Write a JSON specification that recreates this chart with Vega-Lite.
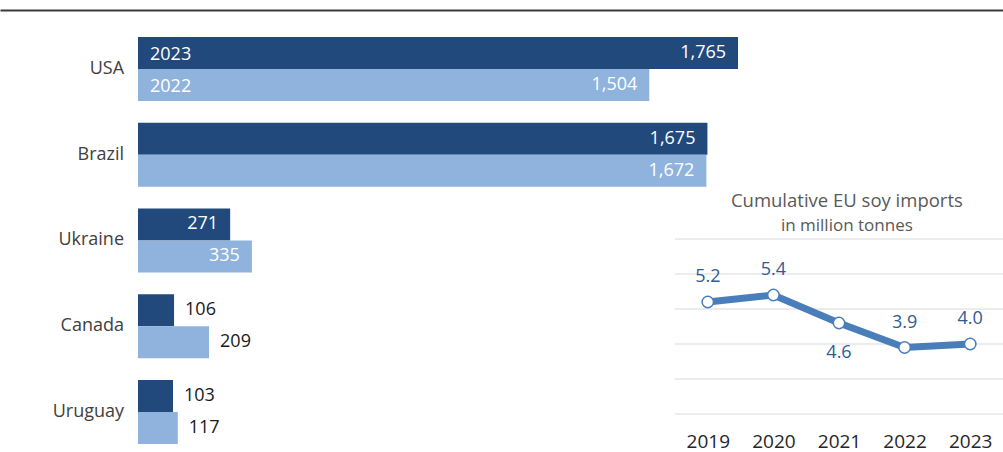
{
  "$schema": "https://vega.github.io/schema/vega-lite/v6.json",
  "width": 1003,
  "height": 452,
  "padding": 0,
  "autosize": {"type": "none"},
  "background": "white",
  "config": {"view": {"stroke": null}, "font": "Open Sans", "text": {"font": "Open Sans"}},
  "datasets": {
    "bars": [
      {"country": "USA", "year": "2023", "value": 1765},
      {"country": "USA", "year": "2022", "value": 1504},
      {"country": "Brazil", "year": "2023", "value": 1675},
      {"country": "Brazil", "year": "2022", "value": 1672},
      {"country": "Ukraine", "year": "2023", "value": 271},
      {"country": "Ukraine", "year": "2022", "value": 335},
      {"country": "Canada", "year": "2023", "value": 106},
      {"country": "Canada", "year": "2022", "value": 209},
      {"country": "Uruguay", "year": "2023", "value": 103},
      {"country": "Uruguay", "year": "2022", "value": 117}
    ],
    "soy": [
      {"year": 2019, "mt": 5.2},
      {"year": 2020, "mt": 5.4},
      {"year": 2021, "mt": 4.6},
      {"year": 2022, "mt": 3.9},
      {"year": 2023, "mt": 4.0}
    ],
    "grid": [{"level": 2}, {"level": 3}, {"level": 4}, {"level": 5}, {"level": 6}, {"level": 7}]
  },
  "layer": [
    {
      "data": {"name": "bars"},
      "mark": {"type": "bar"},
      "encoding": {
        "y": {"field": "country", "type": "nominal", "scale": {"type": "band", "domain": ["USA", "Brazil", "Ukraine", "Canada", "Uruguay"], "paddingInner": 0.2536, "paddingOuter": 0.2624, "align": 0.822}, "axis": null},
        "yOffset": {"field": "year", "type": "nominal", "scale": {"domain": ["2023", "2022"], "paddingInner": 0, "paddingOuter": 0}},
        "x": {"field": "value", "type": "quantitative", "scale": {"domain": [-406, 2544.5], "nice": false, "zero": false},
          "axis": {"orient": "top", "offset": -10, "domain": true, "domainColor": "#3a3a3a", "domainWidth": 2, "labels": false, "ticks": false, "grid": false, "title": null}},
        "color": {"field": "year", "type": "nominal", "scale": {"domain": ["2023", "2022"], "range": ["#22497c", "#8fb3dc"]}, "legend": null}
      }
    },
    {
      "data": {"name": "bars"},
      "transform": [{"filter": "datum.value >= 250"}],
      "mark": {"type": "text", "align": "right", "baseline": "middle", "dx": -12, "fontSize": 18, "color": "white"},
      "encoding": {
        "y": {"field": "country", "type": "nominal", "scale": {"type": "band", "domain": ["USA", "Brazil", "Ukraine", "Canada", "Uruguay"], "paddingInner": 0.2536, "paddingOuter": 0.2624, "align": 0.822}, "axis": null},
        "yOffset": {"field": "year", "type": "nominal", "scale": {"domain": ["2023", "2022"], "paddingInner": 0, "paddingOuter": 0}},
        "x": {"field": "value", "type": "quantitative", "scale": {"domain": [-406, 2544.5], "nice": false, "zero": false}, "axis": null},
        "text": {"field": "value", "type": "quantitative", "format": ","}
      }
    },
    {
      "data": {"name": "bars"},
      "transform": [{"filter": "datum.value < 250"}],
      "mark": {"type": "text", "align": "left", "baseline": "middle", "dx": 11, "fontSize": 18, "color": "#1a1a1a"},
      "encoding": {
        "y": {"field": "country", "type": "nominal", "scale": {"type": "band", "domain": ["USA", "Brazil", "Ukraine", "Canada", "Uruguay"], "paddingInner": 0.2536, "paddingOuter": 0.2624, "align": 0.822}, "axis": null},
        "yOffset": {"field": "year", "type": "nominal", "scale": {"domain": ["2023", "2022"], "paddingInner": 0, "paddingOuter": 0}},
        "x": {"field": "value", "type": "quantitative", "scale": {"domain": [-406, 2544.5], "nice": false, "zero": false}, "axis": null},
        "text": {"field": "value", "type": "quantitative", "format": ","}
      }
    },
    {
      "data": {"name": "bars"},
      "transform": [{"filter": "datum.country === 'USA'"}],
      "mark": {"type": "text", "align": "left", "baseline": "middle", "dx": 12, "dy": 2, "fontSize": 18, "color": "white"},
      "encoding": {
        "y": {"field": "country", "type": "nominal", "scale": {"type": "band", "domain": ["USA", "Brazil", "Ukraine", "Canada", "Uruguay"], "paddingInner": 0.2536, "paddingOuter": 0.2624, "align": 0.822}, "axis": null},
        "yOffset": {"field": "year", "type": "nominal", "scale": {"domain": ["2023", "2022"], "paddingInner": 0, "paddingOuter": 0}},
        "x": {"datum": 0, "type": "quantitative", "scale": {"domain": [-406, 2544.5], "nice": false, "zero": false}, "axis": null},
        "text": {"field": "year", "type": "nominal"}
      }
    },
    {
      "data": {"name": "bars"},
      "transform": [{"filter": "datum.year === '2023'"}],
      "mark": {"type": "text", "align": "right", "baseline": "middle", "dx": -14, "fontSize": 18, "color": "#404040"},
      "encoding": {
        "y": {"field": "country", "type": "nominal", "scale": {"type": "band", "domain": ["USA", "Brazil", "Ukraine", "Canada", "Uruguay"], "paddingInner": 0.2536, "paddingOuter": 0.2624, "align": 0.822}, "axis": null},
        "x": {"datum": 0, "type": "quantitative", "scale": {"domain": [-406, 2544.5], "nice": false, "zero": false}, "axis": null},
        "text": {"field": "country", "type": "nominal"}
      }
    },
    {
      "data": {"name": "grid"},
      "mark": {"type": "rule", "color": "#d9d9d9", "strokeWidth": 1},
      "encoding": {
        "y": {"field": "level", "type": "quantitative", "scale": {"domain": [2, 7], "range": [414, 239], "nice": false, "zero": false}, "axis": null},
        "x": {"datum": 2018.5, "type": "quantitative", "scale": {"domain": [2018.5, 2023.5], "range": [675, 1003], "nice": false, "zero": false}, "axis": null},
        "x2": {"datum": 2023.5}
      }
    },
    {
      "data": {"name": "soy"},
      "mark": {"type": "line", "color": "#4a7ebb", "strokeWidth": 7},
      "encoding": {
        "x": {"field": "year", "type": "quantitative", "scale": {"domain": [2018.5, 2023.5], "range": [675, 1003], "nice": false, "zero": false},
          "axis": {"orient": "bottom", "values": [2019, 2020, 2021, 2022, 2023], "format": "d", "domain": false, "ticks": false, "grid": false, "labelFontSize": 19, "labelColor": "#262626", "labelPadding": 2, "offset": -22, "title": null, "labelFlush": false, "labelOverlap": false, "labelBound": false}},
        "y": {"field": "mt", "type": "quantitative", "scale": {"domain": [2, 7], "range": [414, 239], "nice": false, "zero": false}, "axis": null}
      }
    },
    {
      "data": {"name": "soy"},
      "mark": {"type": "point", "filled": true, "fill": "white", "stroke": "#4a7ebb", "strokeWidth": 1.5, "size": 130, "opacity": 1},
      "encoding": {
        "x": {"field": "year", "type": "quantitative", "scale": {"domain": [2018.5, 2023.5], "range": [675, 1003], "nice": false, "zero": false}, "axis": null},
        "y": {"field": "mt", "type": "quantitative", "scale": {"domain": [2, 7], "range": [414, 239], "nice": false, "zero": false}, "axis": null}
      }
    },
    {
      "data": {"name": "soy"},
      "transform": [{"filter": "datum.year !== 2021"}],
      "mark": {"type": "text", "align": "center", "baseline": "middle", "dy": -25, "fontSize": 18, "color": "#2f5b96"},
      "encoding": {
        "x": {"field": "year", "type": "quantitative", "scale": {"domain": [2018.5, 2023.5], "range": [675, 1003], "nice": false, "zero": false}, "axis": null},
        "y": {"field": "mt", "type": "quantitative", "scale": {"domain": [2, 7], "range": [414, 239], "nice": false, "zero": false}, "axis": null},
        "text": {"field": "mt", "type": "quantitative", "format": ".1f"}
      }
    },
    {
      "data": {"name": "soy"},
      "transform": [{"filter": "datum.year === 2021"}],
      "mark": {"type": "text", "align": "center", "baseline": "middle", "dy": 30, "fontSize": 18, "color": "#2f5b96"},
      "encoding": {
        "x": {"field": "year", "type": "quantitative", "scale": {"domain": [2018.5, 2023.5], "range": [675, 1003], "nice": false, "zero": false}, "axis": null},
        "y": {"field": "mt", "type": "quantitative", "scale": {"domain": [2, 7], "range": [414, 239], "nice": false, "zero": false}, "axis": null},
        "text": {"field": "mt", "type": "quantitative", "format": ".1f"}
      }
    },
    {
      "data": {"values": [{"label": "Cumulative EU soy imports"}]},
      "mark": {"type": "text", "align": "center", "baseline": "middle", "fontSize": 18.5, "color": "#595959"},
      "encoding": {
        "x": {"datum": 2021.12, "type": "quantitative", "scale": {"domain": [2018.5, 2023.5], "range": [675, 1003], "nice": false, "zero": false}, "axis": null},
        "y": {"datum": 8.086, "type": "quantitative", "scale": {"domain": [2, 7], "range": [414, 239], "nice": false, "zero": false}, "axis": null},
        "text": {"field": "label", "type": "nominal"}
      }
    },
    {
      "data": {"values": [{"label": "in million tonnes"}]},
      "mark": {"type": "text", "align": "center", "baseline": "middle", "fontSize": 17, "color": "#595959"},
      "encoding": {
        "x": {"datum": 2021.12, "type": "quantitative", "scale": {"domain": [2018.5, 2023.5], "range": [675, 1003], "nice": false, "zero": false}, "axis": null},
        "y": {"datum": 7.371, "type": "quantitative", "scale": {"domain": [2, 7], "range": [414, 239], "nice": false, "zero": false}, "axis": null},
        "text": {"field": "label", "type": "nominal"}
      }
    }
  ],
  "resolve": {"scale": {"x": "independent", "y": "independent"}, "axis": {"x": "independent", "y": "independent"}}
}
